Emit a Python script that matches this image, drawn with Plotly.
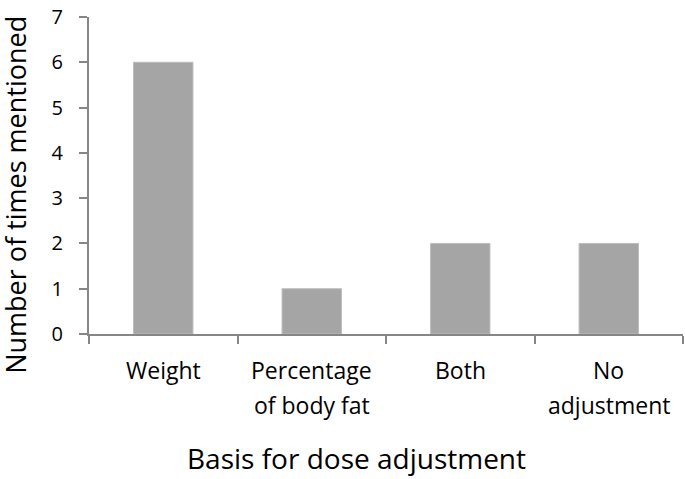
import plotly.graph_objects as go

categories = ["Weight", "Percentage of body fat", "Both", "No adjustment"]
label_lines = [["Weight"], ["Percentage", "of body fat"], ["Both"], ["No", "adjustment"]]
values = [6, 1, 2, 2]
y_ticks = [0, 1, 2, 3, 4, 5, 6, 7]
x_title = "Basis for dose adjustment"
y_title = "Number of times mentioned"

FONT = "Open Sans"
AXIS = "#868686"

fig = go.Figure()
fig.add_trace(go.Bar(
    x=categories, y=values, width=0.4,
    marker=dict(color="#A5A5A5", line=dict(color="#BDBDBD", width=1)),
))

annotations = []
for cat, lines in zip(categories, label_lines):
    for i, ln in enumerate(lines):
        annotations.append(dict(
            x=cat, xref="x", y=0, yref="paper", yanchor="middle",
            yshift=-36 - 35 * i, text=ln, showarrow=False,
            font=dict(family=FONT, size=23, color="#000"),
        ))
annotations.append(dict(
    x=0.45, xref="paper", y=0, yref="paper", yanchor="bottom",
    yshift=-145, text=x_title, showarrow=False,
    font=dict(family=FONT, size=28, color="#000"),
))
annotations.append(dict(
    x=-0.124, xref="paper", y=0.44, yref="paper", xanchor="center", yanchor="middle",
    text=y_title, textangle=-90, showarrow=False, borderpad=0,
    font=dict(family=FONT, size=27, color="#000"),
))

fig.update_layout(
    width=685, height=479,
    margin=dict(l=89, r=2, t=17, b=145),
    paper_bgcolor="white", plot_bgcolor="white",
    showlegend=False,
    bargap=0.6,
    annotations=annotations,
    xaxis=dict(
        type="category", range=[-0.5, 3.5], showticklabels=False,
        tickson="boundaries", ticks="outside", ticklen=8, tickcolor=AXIS, tickwidth=2,
        showline=True, linecolor=AXIS, linewidth=2, showgrid=False, zeroline=False,
    ),
    yaxis=dict(
        range=[0, 7], tickvals=y_ticks, ticks="outside", ticklen=8,
        tickcolor=AXIS, tickwidth=2, ticklabelstandoff=12, ticklabeloverflow="allow",
        showline=True, linecolor=AXIS, linewidth=2, showgrid=False, zeroline=False,
        tickfont=dict(family=FONT, size=20, color="#000"),
    ),
)

fig.write_html("out.html", config={"displayModeBar": False},
               post_script="document.body.style.margin='0';")
